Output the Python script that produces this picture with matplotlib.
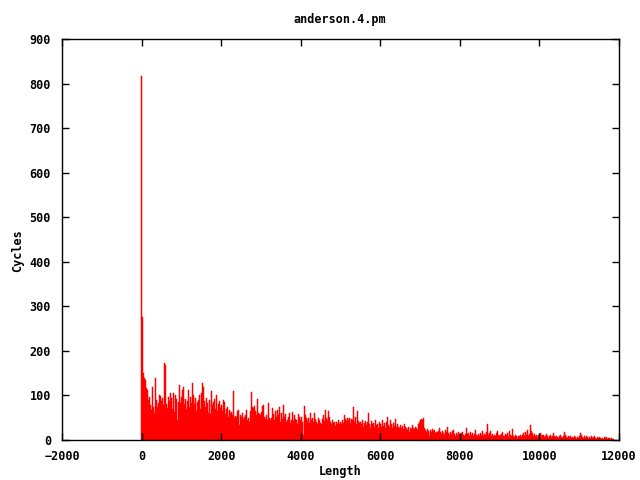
import numpy as np
import matplotlib
matplotlib.use("Agg")
import matplotlib.pyplot as plt

BIN_WIDTH = 25   # length units per bin
FIRST_BIN = 0

# cycle counts per length bin (one row = 500 length units)
cycles = [
    818, 277, 150, 139, 135, 117, 112, 90, 97, 79, 67, 119, 73, 60, 139, 90, 75, 82, 100, 98,
    88, 95, 78, 173, 168, 80, 72, 97, 88, 105, 95, 70, 105, 62, 100, 93, 45, 85, 123, 83,
    96, 112, 118, 80, 92, 70, 88, 112, 75, 97, 84, 128, 100, 80, 95, 65, 86, 90, 101, 70,
    105, 127, 118, 88, 75, 95, 82, 60, 90, 58, 110, 78, 85, 92, 70, 102, 65, 80, 88, 72,
    78, 65, 90, 85, 58, 70, 75, 52, 68, 60, 62, 56, 110, 50, 54, 52, 66, 68, 34, 55,
    52, 60, 48, 52, 55, 67, 45, 49, 50, 40, 64, 108, 75, 72, 76, 64, 55, 93, 60, 58,
    55, 62, 76, 78, 52, 48, 55, 45, 84, 49, 44, 50, 71, 58, 46, 64, 52, 67, 55, 73,
    41, 60, 48, 79, 52, 58, 40, 45, 52, 60, 38, 45, 62, 42, 56, 48, 45, 36, 58, 52,
    45, 52, 40, 12, 76, 55, 50, 42, 49, 38, 60, 45, 49, 40, 60, 47, 41, 35, 49, 44,
    38, 37, 48, 56, 42, 67, 50, 45, 64, 52, 41, 36, 44, 38, 41, 32, 40, 35, 44, 37,
    40, 35, 44, 38, 56, 48, 42, 49, 45, 50, 38, 47, 44, 73, 40, 52, 36, 65, 42, 38,
    41, 35, 44, 30, 38, 42, 33, 40, 61, 36, 28, 42, 35, 38, 30, 45, 33, 36, 28, 40,
    35, 30, 45, 32, 38, 28, 40, 52, 34, 30, 45, 36, 28, 38, 32, 47, 30, 35, 30, 26,
    34, 28, 32, 25, 36, 30, 27, 22, 30, 19, 28, 25, 34, 28, 24, 30, 26, 22, 37, 40,
    44, 48, 46, 49, 26, 22, 18, 25, 20, 8, 22, 18, 24, 16, 20, 23, 15, 19, 17, 21,
    28, 18, 14, 20, 16, 12, 22, 18, 30, 15, 12, 18, 14, 20, 22, 13, 10, 16, 12, 19,
    14, 10, 15, 19, 12, 9, 14, 26, 13, 16, 10, 18, 12, 15, 9, 14, 22, 11, 8, 13,
    10, 16, 12, 20, 9, 14, 11, 18, 36, 12, 15, 20, 10, 13, 8, 12, 10, 15, 20, 11,
    9, 12, 14, 19, 10, 8, 13, 11, 15, 7, 20, 12, 10, 24, 9, 6, 11, 8, 5, 9,
    8, 11, 6, 12, 15, 9, 17, 12, 22, 10, 14, 34, 20, 15, 10, 13, 8, 11, 7, 12,
    9, 15, 8, 11, 12, 6, 10, 13, 9, 5, 8, 11, 7, 9, 15, 8, 6, 10, 7, 5,
    8, 11, 6, 4, 9, 17, 12, 7, 5, 9, 6, 10, 4, 7, 5, 8, 6, 3, 7, 5,
    9, 15, 11, 7, 5, 8, 4, 10, 6, 3, 7, 5, 8, 4, 6, 9, 5, 3, 6, 4,
    7, 4, 2, 5, 3, 6, 4, 7, 3, 5, 4, 2, 4, 3, 2,
]

x_ticks = [-2000, 0, 2000, 4000, 6000, 8000, 10000, 12000]
y_ticks = [0, 100, 200, 300, 400, 500, 600, 700, 800, 900]

plt.rcParams["font.family"] = "DejaVu Sans Mono"
plt.rcParams["font.weight"] = "bold"
plt.rcParams["font.size"] = 8.5

fig = plt.figure(figsize=(6.4, 4.8), dpi=100)
ax = fig.add_axes([62 / 640, 1 - 440 / 480, (619 - 62) / 640, (440 - 39) / 480])

# bins are centred on their length value
edges = FIRST_BIN - BIN_WIDTH / 2 + BIN_WIDTH * np.arange(len(cycles) + 1)
ax.stairs(cycles, edges, fill=True, facecolor="red", edgecolor="red", linewidth=0.35)

ax.set_xlim(-2000, 12000)
ax.set_ylim(0, 900)
ax.set_xticks(x_ticks)
ax.set_yticks(y_ticks)
ax.tick_params(direction="in", top=True, right=True, length=5, width=1, colors="black")
ax.tick_params(axis="x", pad=7)
ax.tick_params(axis="y", pad=8)
for side in ax.spines.values():
    side.set_linewidth(1)
    side.set_zorder(3)

fig.text(340 / 640, 1 - 19 / 480, "anderson.4.pm", ha="center", va="center")
fig.text(340 / 640, 1 - 472 / 480, "Length", ha="center", va="center")
fig.text(18 / 640, 1 - 251 / 480, "Cycles", ha="center", va="center", rotation=90)

fig.savefig("out.png", dpi=100)
